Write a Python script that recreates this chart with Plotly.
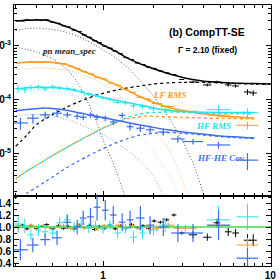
import numpy as np
import plotly.graph_objects as go

# ---------------- model curves (keV, flux units) ----------------
E_model = [0.3, 0.35, 0.4, 0.45, 0.5, 0.6, 0.7, 0.8, 0.9, 1.0, 1.2, 1.4, 1.6, 1.8,
           2.0, 2.5, 3.0, 3.5, 4.0, 5.0, 6.0, 7.0, 8.0, 10.0]
mean_total = [2.90e-3, 3.01e-3, 3.03e-3, 3.03e-3, 2.79e-3, 2.31e-3, 1.89e-3, 1.51e-3,
              1.24e-3, 1.04e-3, 7.85e-4, 5.95e-4, 4.91e-4, 4.26e-4, 3.80e-4, 3.03e-4,
              2.61e-4, 2.37e-4, 2.23e-4, 2.13e-4, 2.06e-4, 2.03e-4, 2.01e-4, 1.98e-4]
mean_comptt = [1.39e-5, 2.24e-5, 3.52e-5, 4.45e-5, 5.37e-5, 7.27e-5, 9.03e-5, 1.06e-4,
               1.21e-4, 1.33e-4, 1.53e-4, 1.67e-4, 1.79e-4, 1.88e-4, 1.98e-4, 2.08e-4,
               2.12e-4, 2.13e-4, 2.11e-4, 2.08e-4, 2.02e-4, 1.99e-4, 1.97e-4, 1.94e-4]
E_bb1 = E_model[:19] + [4.5]
mean_bb1 = [1.92e-3, 2.10e-3, 2.13e-3, 2.08e-3, 2.02e-3, 1.80e-3, 1.53e-3, 1.26e-3,
            1.03e-3, 8.43e-4, 5.87e-4, 4.00e-4, 2.61e-4, 1.74e-4, 1.19e-4, 4.40e-5,
            1.67e-5, 6.00e-6, 1.74e-6, 4.0e-7]
E_bb2 = E_model[:12]
mean_bb2 = [9.46e-4, 8.65e-4, 7.74e-4, 6.81e-4, 5.74e-4, 3.83e-4, 2.15e-4, 9.79e-5,
            4.26e-5, 1.82e-5, 4.84e-6, 1.14e-6]

E_rms = E_model[:23]
lf_total = [4.86e-4, 5.01e-4, 5.06e-4, 5.06e-4, 4.97e-4, 4.56e-4, 3.78e-4, 3.20e-4,
            2.76e-4, 2.43e-4, 1.90e-4, 1.51e-4, 1.21e-4, 1.03e-4, 9.06e-5, 7.17e-5,
            6.40e-5, 5.87e-5, 5.55e-5, 5.06e-5, 4.91e-5, 4.76e-5, 4.64e-5]
lf_comptt = [3.48e-6, 4.82e-6, 6.18e-6, 7.74e-6, 9.42e-6, 1.30e-5, 1.69e-5, 2.11e-5,
             2.55e-5, 3.03e-5, 3.83e-5, 4.53e-5, 4.81e-5, 5.06e-5, 4.99e-5, 4.84e-5,
             4.76e-5, 4.70e-5, 4.64e-5, 4.58e-5, 4.53e-5, 4.49e-5, 4.45e-5]
E_lf_bb = E_model[:18]
lf_bb = [3.61e-4, 3.75e-4, 3.86e-4, 3.86e-4, 3.82e-4, 3.57e-4, 3.24e-4, 2.78e-4,
         2.36e-4, 1.98e-4, 1.34e-4, 8.91e-5, 6.15e-5, 4.17e-5, 2.87e-5, 1.14e-5,
         3.16e-6, 7.4e-7]

hf_total = [1.61e-4, 1.68e-4, 1.73e-4, 1.72e-4, 1.70e-4, 1.61e-4, 1.46e-4, 1.31e-4,
            1.20e-4, 1.11e-4, 9.91e-5, 8.99e-5, 8.29e-5, 7.64e-5, 7.14e-5, 6.37e-5,
            6.12e-5, 6.02e-5, 5.92e-5, 5.88e-5, 5.87e-5, 5.87e-5, 5.87e-5]
hf_comptt = [3.48e-6, 4.82e-6, 6.18e-6, 7.74e-6, 9.42e-6, 1.30e-5, 1.69e-5, 2.11e-5,
             2.55e-5, 3.03e-5, 3.83e-5, 4.75e-5, 5.32e-5, 5.74e-5, 5.85e-5, 6.00e-5,
             5.89e-5, 5.80e-5, 5.74e-5, 5.65e-5, 5.60e-5, 5.55e-5, 5.50e-5]
E_hf_bb = E_model[:17]
hf_bb = [1.36e-4, 1.42e-4, 1.46e-4, 1.44e-4, 1.41e-4, 1.34e-4, 1.17e-4, 9.96e-5,
         8.47e-5, 7.17e-5, 5.12e-5, 3.55e-5, 2.50e-5, 1.67e-5, 1.11e-5, 3.92e-6, 1.14e-6]

cov_total = [6.31e-5, 6.64e-5, 6.90e-5, 7.08e-5, 6.93e-5, 6.48e-5, 5.89e-5, 5.41e-5,
             5.03e-5, 4.72e-5, 4.22e-5, 3.83e-5, 3.53e-5, 3.30e-5, 3.11e-5, 2.77e-5,
             2.56e-5, 2.43e-5, 2.31e-5, 2.15e-5, 2.08e-5, 2.03e-5, 1.98e-5]
cov_comptt = [1.41e-6, 1.88e-6, 2.43e-6, 3.07e-6, 3.78e-6, 5.48e-6, 7.20e-6, 8.95e-6,
              1.08e-5, 1.26e-5, 1.62e-5, 1.92e-5, 2.18e-5, 2.32e-5, 2.42e-5, 2.49e-5,
              2.40e-5, 2.32e-5, 2.23e-5, 2.10e-5, 2.02e-5, 1.97e-5, 1.94e-5]
E_cov_bb = E_model[:15] + [2.2, 2.4]
cov_bb = [5.11e-5, 5.30e-5, 5.43e-5, 5.32e-5, 5.08e-5, 4.43e-5, 3.75e-5, 3.08e-5,
          2.61e-5, 2.27e-5, 1.62e-5, 1.16e-5, 8.51e-6, 5.82e-6, 3.92e-6, 2.16e-6, 1.19e-6]

# ---------------- data points ----------------
E_mean = [0.31, 0.33, 0.35, 0.37, 0.40, 0.43, 0.46, 0.50, 0.54, 0.58, 0.62, 0.67, 0.72,
          0.77, 0.83, 0.89, 0.95, 1.02, 1.10, 1.18, 1.27, 1.37, 1.48, 1.60, 1.73, 1.87,
          2.02, 2.20, 2.40, 2.65, 2.95, 3.45, 4.2, 4.8, 5.6, 6.2, 7.3, 7.9]
F_mean = [2.95e-3, 2.92e-3, 3.05e-3, 2.98e-3, 3.06e-3, 2.99e-3, 3.04e-3, 2.75e-3, 2.63e-3,
          2.37e-3, 2.25e-3, 1.97e-3, 1.85e-3, 1.60e-3, 1.45e-3, 1.25e-3, 1.15e-3, 1.00e-3,
          9.1e-4, 8.0e-4, 7.2e-4, 6.1e-4, 5.6e-4, 4.85e-4, 4.55e-4, 4.05e-4, 3.85e-4,
          3.45e-4, 3.20e-4, 2.95e-4, 2.40e-4, 2.15e-4, 1.90e-4, 2.15e-4, 1.90e-4, 1.82e-4,
          1.41e-4, 1.35e-4]
R_mean = [1.00, 1.03, 0.97, 1.02, 0.98, 1.01, 1.04, 0.97, 1.02, 0.98, 1.01, 0.97, 1.03,
          0.99, 1.02, 0.96, 1.01, 0.98, 1.03, 0.97, 1.02, 0.98, 1.04, 0.99, 1.02, 0.98,
          1.10, 1.08, 1.12, 1.20, 0.90, 0.87, 0.83, 1.07, 0.92, 0.90, 0.78, 0.78]

E_lf = [0.31, 0.34, 0.37, 0.40, 0.44, 0.48, 0.53, 0.58, 0.64, 0.70, 0.77, 0.85, 0.93,
        1.02, 1.12, 1.23, 1.36, 1.50, 1.66, 1.85, 2.1, 2.45, 3.1, 4.9, 7.3]
F_lf = [4.9e-4, 4.95e-4, 5.1e-4, 5.05e-4, 5.1e-4, 4.95e-4, 4.85e-4, 4.7e-4, 4.25e-4,
        3.85e-4, 3.35e-4, 3.05e-4, 2.6e-4, 2.45e-4, 2.05e-4, 1.88e-4, 1.55e-4, 1.38e-4,
        1.12e-4, 1.04e-4, 8.6e-5, 7.6e-5, 6.2e-5, 5.25e-5, 3.4e-5]
R_lf = [1.02, 0.99, 1.03, 1.00, 1.02, 0.99, 1.01, 1.02, 0.98, 1.03, 0.99, 1.01, 0.97,
        1.02, 1.00, 1.03, 0.98, 1.02, 0.97, 1.00, 0.98, 1.03, 0.98, 1.03, 0.70]

E_hf = [0.31, 0.34, 0.37, 0.41, 0.45, 0.50, 0.55, 0.61, 0.67, 0.74, 0.82, 0.90, 1.0,
        1.1, 1.22, 1.36, 1.52, 1.72, 2.0, 2.35, 4.9, 7.3]
F_hf = [1.62e-4, 1.55e-4, 1.70e-4, 1.74e-4, 1.60e-4, 1.76e-4, 1.66e-4, 1.63e-4, 1.55e-4,
        1.45e-4, 1.30e-4, 1.22e-4, 1.10e-4, 1.03e-4, 9.0e-5, 8.8e-5, 7.8e-5, 7.5e-5,
        6.9e-5, 6.6e-5, 6.6e-5, 5.8e-5]
R_hf = [1.05, 1.02, 0.87, 0.95, 0.92, 0.90, 1.07, 1.12, 1.00, 1.05, 0.98, 1.02, 0.97,
        1.03, 0.90, 0.97, 0.83, 0.90, 0.95, 1.03, 1.12, 1.17]

E_cov = [0.32, 0.38, 0.45, 0.53, 0.61, 0.70, 0.76, 0.84, 0.92, 1.03, 1.15, 1.30, 1.45,
         1.67, 1.91, 2.29, 2.8, 3.45, 4.9, 7.3]
F_cov = [3.75e-5, 4.6e-5, 5.3e-5, 5.7e-5, 5.3e-5, 5.0e-5, 4.8e-5, 5.3e-5, 4.8e-5, 4.6e-5,
         3.9e-5, 5.2e-5, 3.2e-5, 3.0e-5, 2.8e-5, 2.55e-5, 1.9e-5, 1.7e-5, 1.47e-5, 7.7e-6]
R_cov = [0.62, 0.70, 0.79, 0.82, 1.08, 1.00, 1.15, 1.17, 1.33, 1.28, 1.20, 1.08, 1.12,
         1.15, 1.03, 1.00, 0.90, 0.90, 1.03, 0.48]

# error bar sizes: half bin width (dex), relative flux error, ratio error
dx_mean = [0.015] * 31 + [0.025, 0.025, 0.02, 0.02, 0.02, 0.022, 0.022]
ef_mean = [0.02] * 31 + [0.05, 0.06, 0.06, 0.07, 0.07, 0.12, 0.12]
er_mean = [0.025] * 31 + [0.06, 0.06, 0.07, 0.07, 0.07, 0.10, 0.10]
dx_lf = [0.02] * 20 + [0.03, 0.04, 0.07, 0.065, 0.065]
ef_lf = [0.03] * 20 + [0.05, 0.06, 0.06, 0.06, 0.15]
er_lf = [0.03] * 20 + [0.05, 0.06, 0.06, 0.06, 0.12]
dx_hf = [0.02] * 18 + [0.03, 0.035, 0.07, 0.065]
ef_hf = [0.15, 0.13, 0.12, 0.12, 0.1, 0.1, 0.1, 0.1, 0.08, 0.08, 0.08, 0.08, 0.08, 0.08,
         0.08, 0.08, 0.1, 0.1, 0.1, 0.12, 0.2, 0.2]
er_hf = [0.15, 0.12, 0.1, 0.1, 0.1, 0.1, 0.1, 0.1, 0.08, 0.08, 0.08, 0.08, 0.08, 0.08,
         0.08, 0.08, 0.1, 0.1, 0.1, 0.12, 0.23, 0.22]
dx_cov = [0.045, 0.035, 0.03, 0.03, 0.025, 0.02, 0.02, 0.02, 0.02, 0.02, 0.02, 0.02, 0.02,
          0.025, 0.025, 0.03, 0.04, 0.06, 0.07, 0.065]
ef_cov = [0.25, 0.2, 0.15, 0.15, 0.12, 0.12, 0.12, 0.12, 0.12, 0.12, 0.12, 0.12, 0.15,
          0.15, 0.15, 0.15, 0.15, 0.12, 0.15, 0.35]
er_cov = [0.18, 0.12, 0.1, 0.12, 0.12, 0.12, 0.12, 0.15, 0.22, 0.17, 0.15, 0.15, 0.15,
          0.2, 0.15, 0.15, 0.15, 0.15, 0.25, 0.17]

C_BLACK = "#000000"
C_GREY = "#555555"
C_OR = "#ff9a1e"
C_OR_L = "#ffb866"
C_CY = "#22e3ee"
C_CY_L = "#8ef0f5"
C_BL = "#3d6cf5"
C_BL_L = "#86a4f7"
C_GR = "#44dd44"

fig = go.Figure()


def line(E, F, color, dash="solid", width=1.5, ax="y"):
    fig.add_trace(go.Scatter(x=E, y=F, mode="lines", yaxis=ax,
                             xaxis="x" if ax == "y" else "x2",
                             line=dict(color=color, width=width, dash=dash,
                                       shape="spline", smoothing=0.8),
                             hoverinfo="skip"))


def pts(E, V, dx, ey, color, ax="y", rel=True, th=1.0):
    E = np.array(E, float)
    V = np.array(V, float)
    dx = np.array(dx, float)
    ey = np.array(ey, float)
    err = V * ey if rel else ey
    fig.add_trace(go.Scatter(
        x=E, y=V, mode="markers", yaxis=ax, xaxis="x" if ax == "y" else "x2",
        marker=dict(size=1, color=color),
        error_x=dict(type="data", symmetric=False, array=E * (10 ** dx - 1),
                     arrayminus=E * (1 - 10 ** (-dx)), color=color, thickness=th, width=0),
        error_y=dict(type="data", symmetric=False, array=err, arrayminus=err,
                     color=color, thickness=th, width=0),
        hoverinfo="skip"))


DOT = "1px,2px"
# components
line(E_bb1, mean_bb1, C_GREY, DOT, 1.0)
line(E_bb2, mean_bb2, C_GREY, DOT, 1.0)
line(E_lf_bb, lf_bb, C_OR_L, DOT, 1.0)
line(E_hf_bb, hf_bb, C_CY_L, DOT, 1.0)
line(E_cov_bb, cov_bb, C_BL_L, DOT, 1.0)
line(E_model, mean_comptt, C_BLACK, "3px,3px", 1.2)
line(E_rms, lf_comptt, C_OR, "3px,3px", 1.4)
line(E_rms, hf_comptt, C_CY, "0px,3px,3px,0px", 1.4)
line(E_rms, cov_comptt, C_BL, "3px,3px", 1.2)
# data
pts(E_mean, F_mean, dx_mean, ef_mean, C_BLACK)
pts(E_lf, F_lf, dx_lf, ef_lf, C_OR)
pts(E_hf, F_hf, dx_hf, ef_hf, C_CY)
pts(E_cov, F_cov, dx_cov, ef_cov, C_BL, th=1.2)
# totals
line(E_model, mean_total, C_BLACK, "solid", 1.5)
line(E_rms, lf_total, C_OR, "solid", 1.5)
line(E_rms, hf_total, C_CY, "solid", 1.5)
line(E_rms, cov_total, C_BL, "solid", 1.5)

# ratio panel
pts(E_mean, R_mean, dx_mean, er_mean, C_BLACK, ax="y2", rel=False)
pts(E_lf, R_lf, dx_lf, er_lf, C_OR, ax="y2", rel=False)
fig.add_trace(go.Scatter(x=[0.28, 11], y=[1.0, 1.0], mode="lines", xaxis="x2", yaxis="y2",
                         line=dict(color=C_GR, width=1.3), hoverinfo="skip"))
pts(E_hf, R_hf, dx_hf, er_hf, C_CY, ax="y2", rel=False)
pts(E_cov, R_cov, dx_cov, er_cov, C_BL, ax="y2", rel=False, th=1.2)

tickfont = dict(family="Liberation Sans", size=10, color="black", weight="bold")
xminor = [0.3, 0.4, 0.5, 0.6, 0.7, 0.8, 0.9, 2, 3, 4, 5, 6, 7, 8, 9]
yminor = [k * 10.0 ** p for p in (-6, -5, -4, -3) for k in range(2, 10)]
common_x = dict(type="log", range=[-0.533, 1.004], tickmode="array", tickvals=[1, 10],
                ticktext=["1", "10"],
                ticks="inside", ticklen=5, tickwidth=1, tickcolor="black",
                mirror="allticks", showline=True, linecolor="black", linewidth=1,
                showgrid=False, zeroline=False, tickfont=tickfont, automargin=False,
                minor=dict(tickmode="array", tickvals=xminor, ticks="inside", ticklen=3,
                           tickcolor="black", tickwidth=1, showgrid=False))
DOM = 70 / 261
fig.update_layout(
    template="none", width=280, height=280,
    margin=dict(l=14, r=9, t=5, b=14),
    paper_bgcolor="white", plot_bgcolor="white", showlegend=False,
    xaxis=dict(common_x, anchor="y", showticklabels=False),
    xaxis2=dict(common_x, anchor="y2", matches="x", showticklabels=True),
    yaxis=dict(type="log", domain=[DOM, 1], range=[-5.778, -2.241],
               tickmode="array", tickvals=[1e-5, 1e-4, 1e-3],
               ticktext=["10<sup>-5</sup>", "10<sup>-4</sup>", "10<sup>-3</sup>"],
               ticks="inside", ticklen=5, tickwidth=1, tickcolor="black",
               mirror="allticks", showline=True, linecolor="black", linewidth=1,
               showgrid=False, zeroline=False, tickfont=tickfont, automargin=False,
               minor=dict(tickmode="array", tickvals=yminor, ticks="inside", ticklen=3,
                          tickcolor="black", tickwidth=1, showgrid=False)),
    yaxis2=dict(domain=[0, DOM], range=[0.35, 1.517],
                tickmode="array", tickvals=[0.4, 0.6, 0.8, 1.0, 1.2, 1.4],
                ticktext=["0.4", "0.6", "0.8", "1.0", "1.2", "1.4"],
                ticks="inside", ticklen=5, tickwidth=1, tickcolor="black",
                mirror="allticks", showline=True, linecolor="black", linewidth=1,
                showgrid=False, zeroline=False, tickfont=tickfont, automargin=False,
                minor=dict(dtick=0.1, ticks="inside", ticklen=3, tickcolor="black",
                           tickwidth=1, showgrid=False)),
)


def px(xp, yp):
    return (xp - 14) / 257, (266 - yp) / 261


def label(text, xp, yp, size, color, family="Liberation Sans", style="normal",
          weight="bold"):
    x, y = px(xp, yp)
    fig.add_annotation(x=x, y=y, xref="paper", yref="paper", text=text, showarrow=False,
                       xanchor="center", yanchor="middle",
                       font=dict(family=family, size=size, color=color, style=style,
                                 weight=weight))


label("(b) CompTT-SE", 207, 32, 10.5, "black")
label("\u0393 = 2.10 (fixed)", 207.5, 50, 8.5, "black")
label("pn mean_spec", 68.5, 51, 9, "#222222", "Liberation Serif", "italic")
label("LF RMS", 170, 95, 9, C_OR, "Liberation Serif", "italic")
label("HF RMS", 213.5, 126, 9, C_CY, "Liberation Serif", "italic")
label("HF-HE Cov.", 221, 158, 9, C_BL, "Liberation Serif", "italic")

fig.write_html("out.html",
               config={"displayModeBar": False, "staticPlot": True},
               post_script="document.body.style.margin='0';"
                           "document.body.style.overflow='hidden';")
